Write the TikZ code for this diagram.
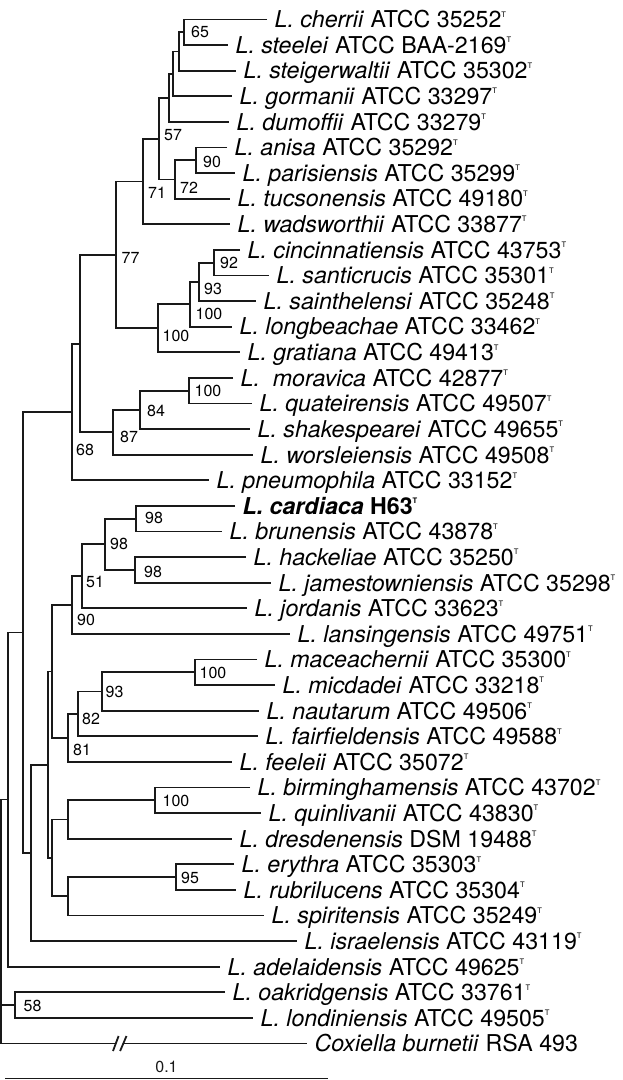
\documentclass[tikz,border=0pt]{standalone}
\usepackage{fontspec}
\setmainfont{TeX Gyre Heros}
\usepackage{tikz}
\usetikzlibrary{calc}

% type strain mark
\newcommand{\tstrain}{\raisebox{5.3pt}{\fontsize{3.8pt}{4pt}\selectfont T}}
% clade: name, x, upper child, lower child
\newcommand{\clade}[4]{%
  \coordinate (#1-m) at ($(#3)!0.5!(#4)$);
  \coordinate (#1) at (#2,0 |- #1-m);
  \draw[branch] (#3) -| (#1) |- (#4);
}

\begin{document}
\begin{tikzpicture}[
  x=0.5pt, y=-0.5pt,
  branch/.style={line width=0.9pt, black!90},
  taxon/.style={anchor=west, inner xsep=3.6pt, inner ysep=0pt,
                text height=8.3pt, text depth=0pt,
                font=\fontsize{11.6pt}{13pt}\selectfont},
  boot/.style={inner sep=0pt, font=\fontsize{8pt}{9pt}\selectfont}
]
\useasboundingbox (0,0) rectangle (622,1080);

% leaves
\foreach \n/\x/\lab [count=\i from 0] in {
  cher/267/{\textit{L. cherrii} ATCC 35252\tstrain},
  steel/228/{\textit{L. steelei} ATCC BAA-2169\tstrain},
  steig/236/{\textit{L. steigerwaltii} ATCC 35302\tstrain},
  gorm/232/{\textit{L. gormanii} ATCC 33297\tstrain},
  dumo/229/{\textit{L. dumoffii} ATCC 33279\tstrain},
  anis/227/{\textit{L. anisa} ATCC 35292\tstrain},
  pari/235/{\textit{L. parisiensis} ATCC 35299\tstrain},
  tucs/230/{\textit{L. tucsonensis} ATCC 49180\tstrain},
  wads/230/{\textit{L. wadsworthii} ATCC 33877\tstrain},
  cinc/240/{\textit{L. cincinnatiensis} ATCC 43753\tstrain},
  sant/269/{\textit{L. santicrucis} ATCC 35301\tstrain},
  sain/256/{\textit{L. sainthelensi} ATCC 35248\tstrain},
  long/232/{\textit{L. longbeachae} ATCC 33462\tstrain},
  grat/240/{\textit{L. gratiana} ATCC 49413\tstrain},
  mora/233/{\textit{L.\hspace{0.28em} moravica} ATCC 42877\tstrain},
  quat/252/{\textit{L. quateirensis} ATCC 49507\tstrain},
  shak/250/{\textit{L. shakespearei} ATCC 49655\tstrain},
  wors/253/{\textit{L. worsleiensis} ATCC 49508\tstrain},
  pneu/209/{\textit{L. pneumophila} ATCC 33152\tstrain},
  card/235/{\textbf{\textit{L. cardiaca} H63\tstrain}},
  brun/222/{\textit{L. brunensis} ATCC 43878\tstrain},
  hack/246/{\textit{L. hackeliae} ATCC 35250\tstrain},
  jame/271/{\textit{L. jamestowniensis} ATCC 35298\tstrain},
  jord/247/{\textit{L. jordanis} ATCC 33623\tstrain},
  lans/290/{\textit{L. lansingensis} ATCC 49751\tstrain},
  mace/257/{\textit{L. maceachernii} ATCC 35300\tstrain},
  micd/275/{\textit{L. micdadei} ATCC 33218\tstrain},
  naut/259/{\textit{L. nautarum} ATCC 49506\tstrain},
  fair/258/{\textit{L. fairfieldensis} ATCC 49588\tstrain},
  feel/232/{\textit{L. feeleii} ATCC 35072\tstrain},
  birm/250/{\textit{L. birminghamensis} ATCC 43702\tstrain},
  quin/261/{\textit{L. quinlivanii} ATCC 43830\tstrain},
  dres/232/{\textit{L. dresdenensis} DSM 19488\tstrain},
  eryt/234/{\textit{L. erythra} ATCC 35303\tstrain},
  rubr/236/{\textit{L. rubrilucens} ATCC 35304\tstrain},
  spir/264/{\textit{L. spiritensis} ATCC 35249\tstrain},
  isra/297/{\textit{L. israelensis} ATCC 43119\tstrain},
  adel/220/{\textit{L. adelaidensis} ATCC 49625\tstrain},
  oakr/225/{\textit{L. oakridgensis} ATCC 33761\tstrain},
  lond/253/{\textit{L. londiniensis} ATCC 49505\tstrain},
  coxi/307/{\textit{Coxiella burnetii} RSA 493}}{
  \coordinate (\n) at (\x,{19.5+25.6*\i});
  \node[taxon] (\n-lab) at (\n) {\lab};
}

% upper clades
\clade{n65}{184.3}{cher}{steel}
\clade{na}{179.3}{n65}{steig}
\clade{nb}{172.7}{na}{gorm}
\clade{nc}{169.3}{nb}{dumo}
\clade{n90}{195.7}{anis}{pari}
\clade{n72}{175.3}{n90}{tucs}
\clade{n57}{159.3}{nc}{n72}
\clade{n71}{143.3}{n57}{wads}
\clade{n92}{214}{cinc}{sant}
\clade{n93}{199.3}{n92}{sain}
\clade{n100a}{190}{n93}{long}
\clade{n100b}{158.3}{n100a}{grat}
\clade{n77}{116}{n71}{n100b}
\clade{n100c}{188.7}{mora}{quat}
\clade{n84}{140}{n100c}{shak}
\clade{n87}{112.7}{n84}{wors}
\clade{nd}{80}{n77}{n87}
\clade{n68}{72.3}{nd}{pneu}
% lower clades
\clade{n98a}{136}{card}{brun}
\clade{n98c}{135}{hack}{jame}
\clade{n98b}{105}{n98a}{n98c}
\clade{n51}{81.7}{n98b}{jord}
\clade{n90b}{71.7}{n51}{lans}
\clade{n100d}{195}{mace}{micd}
\clade{n93b}{101.7}{n100d}{naut}
\clade{n82}{78.3}{n93b}{fair}
\clade{n81}{68.3}{n82}{feel}
\clade{ne}{51.7}{n90b}{n81}
\clade{n100e}{155}{birm}{quin}
\clade{ng}{67.7}{n100e}{dres}
\clade{n95}{176}{eryt}{rubr}
\clade{nh}{67.7}{n95}{spir}
\clade{ni}{52.3}{ng}{nh}
\clade{nj}{48}{ne}{ni}
\clade{nk}{30.7}{nj}{isra}
\clade{nl}{22.7}{n68}{nk}
\clade{nm}{8.3}{nl}{adel}
\clade{n58}{15}{oakr}{lond}

% root and outgroup with break
\coordinate (root) at (1,0 |- nm);
\coordinate (brkL) at (115.8,0 |- coxi);
\coordinate (brkR) at (123.3,0 |- coxi);
\draw[branch] (nm) -| (root) |- (brkL);
\draw[branch] (n58) -| (root);
\draw[branch] (brkR) -- (coxi);
\draw[branch] ($(brkL)+(-2.8,7.5)$) -- ++(5.6,-15);
\draw[branch] ($(brkR)+(-3.2,7.5)$) -- ++(6.4,-15);

% bootstrap values
\foreach \v/\x/\y [count=\k] in {65/200/32, 57/173/135, 90/212/162, 72/189/188,
  71/157/193, 77/130.5/258, 92/229/263, 93/213/289, 100/209/314, 100/176/336,
  100/208/391, 84/156/411, 87/129/437, 68/85/450, 98/154/518, 98/119/544,
  98/153/572, 51/95/582, 90/86/620, 100/213/673, 93/114.5/692, 82/91/719,
  81/82/750, 100/176/801, 95/190/878, 58/32.5/1006}
  \node[boot] (bs\k) at (\x,\y) {\v};

% scale bar
\coordinate (sbL) at (5,1078.5);
\coordinate (sbR) at (328,1078.5);
\draw[branch] (sbL) -- (sbR) node[boot, midway, above=2.2pt] (sblab) {0.1};

\end{tikzpicture}
\end{document}
